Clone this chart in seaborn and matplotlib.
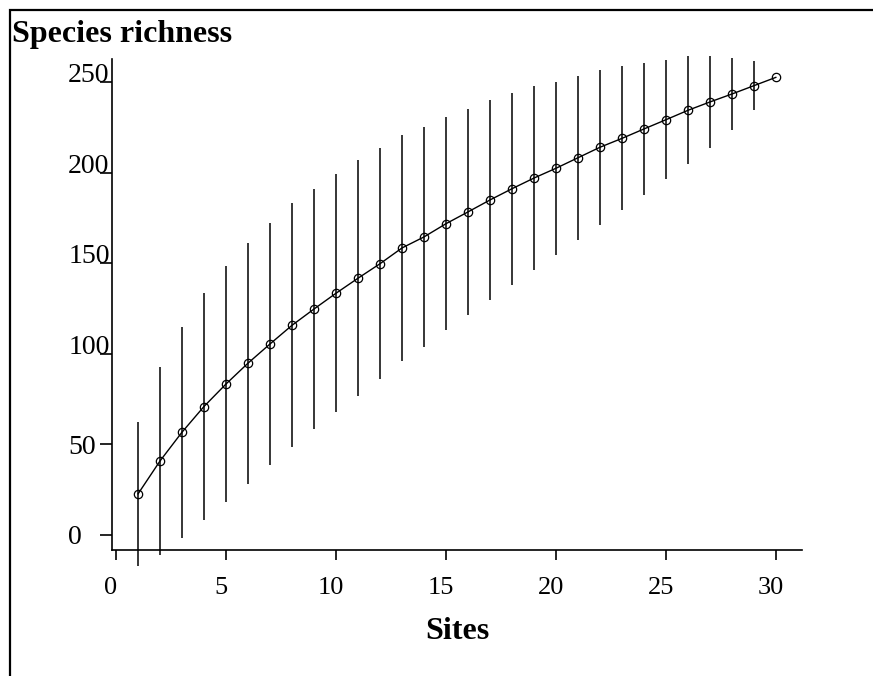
import matplotlib
matplotlib.use("Agg")
import matplotlib.pyplot as plt
import matplotlib.patches as mpatches
import matplotlib.transforms as mtransforms
import numpy as np
import pandas as pd
import seaborn as sns

# species accumulation: mean richness and sd per number of sites
sites = list(range(1, 31))
richness = [22.6, 40.8, 56.7, 70.9, 83.3, 94.8, 105.4, 115.7, 124.7, 133.4,
            141.7, 149.7, 158.4, 164.5, 171.8, 178.3, 184.9, 191.1, 197.0, 202.4,
            208.2, 214.0, 218.9, 224.1, 229.2, 234.4, 239.0, 243.4, 248.0, 252.6]
sd = [39.8, 52.0, 58.3, 62.5, 65.0, 66.5, 66.8, 67.3, 66.3, 65.8,
      65.0, 63.8, 62.2, 60.7, 58.8, 57.0, 55.0, 53.1, 50.6, 47.7,
      45.3, 42.8, 39.8, 36.6, 32.8, 29.8, 25.3, 19.9, 13.6, 0.0]

df = pd.DataFrame({'Sites': sites, 'Richness': richness, 'sd': sd})

sns.set_style("ticks")
plt.rcParams['font.family'] = ['Liberation Serif', 'DejaVu Serif']
plt.rcParams['text.color'] = 'black'
plt.rcParams['axes.labelcolor'] = 'black'

fig = plt.figure(figsize=(8.73, 6.76), dpi=100)
ax = fig.add_axes([112/873, 1-550/676, 690/873, 491/676])

# error bars (not clipped, like the R plot)
ax.vlines(df['Sites'], df['Richness']-df['sd'], df['Richness']+df['sd'],
          color='black', linewidth=1.1, clip_on=False)

sns.lineplot(data=df, x='Sites', y='Richness', ax=ax, color='black', linewidth=1.0,
             marker='o', markersize=6, markerfacecolor='none', markeredgecolor='black',
             markeredgewidth=0.9, clip_on=False)

ax.set_xlim(-0.18, 31.18)
ax.set_ylim(-8.3, 262.7)
ax.set_xticks([0, 5, 10, 15, 20, 25, 30])
ax.set_yticks([0, 50, 100, 150, 200, 250])
sns.despine(ax=ax)
for s in ['left', 'bottom']:
    ax.spines[s].set_linewidth(1.2)
    ax.spines[s].set_color('black')

ax.tick_params(axis='x', length=7.2, width=1.2, pad=12, labelsize=19, colors='black')
ax.tick_params(axis='y', length=8.6, width=1.2, pad=23, labelsize=20, colors='black')

# x labels sit a little left of their ticks in the original
shift = mtransforms.ScaledTranslation(-5/100, 0, fig.dpi_scale_trans)
for lab in ax.get_xticklabels():
    lab.set_transform(lab.get_transform() + shift)
for lab in ax.get_yticklabels():
    lab.set_horizontalalignment('left')
    if len(lab.get_text()) > 2:
        lab.set_verticalalignment('baseline')

ax.set_xlabel('Sites', fontsize=23, fontweight='bold', labelpad=13)
ax.set_ylabel('')

fig.text(12/873, 1-42/676, 'Species richness', fontsize=23, fontweight='bold',
         va='baseline', ha='left')

# outer frame, running off the right and bottom edges
fig.add_artist(mpatches.Rectangle((10/873, -0.2), 1.3, 1.2-10/676,
                                  transform=fig.transFigure, fill=False,
                                  edgecolor='black', linewidth=1.6))

plt.savefig('out.png', dpi=100)
